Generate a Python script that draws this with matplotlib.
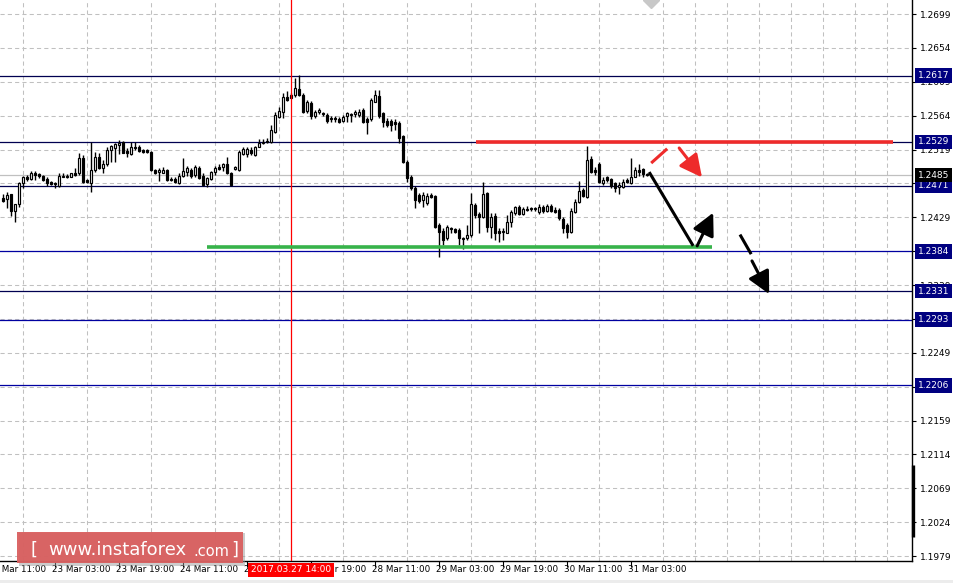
import numpy as np
import matplotlib.pyplot as plt
from matplotlib.patches import Rectangle

plt.rcParams['font.family'] = ['DejaVu Sans']

# EURUSD H1 candles (index 0 = 22 Mar 08:00, weekend skipped)
opens = [
    1.2455, 1.2453, 1.2460, 1.2437, 1.2447, 1.2475, 1.2482, 1.2480, 1.2488, 1.2486,
    1.2484, 1.2480, 1.2476, 1.2475, 1.2471, 1.2482, 1.2484, 1.2482, 1.2488, 1.2488,
    1.2508, 1.2479, 1.2475, 1.2492, 1.2509, 1.2494, 1.2500, 1.2518, 1.2521, 1.2525,
    1.2529, 1.2517, 1.2513, 1.2522, 1.2522, 1.2518, 1.2518, 1.2516, 1.2492, 1.2489,
    1.2488, 1.2492, 1.2480, 1.2480, 1.2475, 1.2484, 1.2489, 1.2492, 1.2485, 1.2494,
    1.2484, 1.2473, 1.2480, 1.2489, 1.2496, 1.2496, 1.2500, 1.2488, 1.2493, 1.2492,
    1.2513, 1.2513, 1.2518, 1.2512, 1.2522, 1.2528, 1.2530, 1.2529, 1.2542, 1.2562,
    1.2569, 1.2589, 1.2587, 1.2591, 1.2599, 1.2591, 1.2570, 1.2581, 1.2564, 1.2569,
    1.2568, 1.2565, 1.2561, 1.2561, 1.2560, 1.2557, 1.2564, 1.2565, 1.2566, 1.2565,
    1.2571, 1.2560, 1.2560, 1.2582, 1.2590, 1.2568, 1.2557, 1.2557, 1.2556, 1.2554,
    1.2537, 1.2502, 1.2482, 1.2468, 1.2459, 1.2452, 1.2448, 1.2459, 1.2457, 1.2419,
    1.2411, 1.2401, 1.2415, 1.2413, 1.2412, 1.2400, 1.2401, 1.2405, 1.2445, 1.2433,
    1.2429, 1.2461, 1.2416, 1.2431, 1.2411, 1.2409, 1.2408, 1.2423, 1.2435, 1.2443,
    1.2433, 1.2440, 1.2441, 1.2440, 1.2436, 1.2443, 1.2437, 1.2444, 1.2439, 1.2439,
    1.2427, 1.2419, 1.2409, 1.2436, 1.2449, 1.2465, 1.2456, 1.2506, 1.2492, 1.2500,
    1.2475, 1.2482, 1.2480, 1.2475, 1.2469, 1.2469, 1.2479, 1.2475, 1.2482, 1.2492,
    1.2493, 1.2486,
]
highs = [
    1.2460, 1.2463, 1.2460, 1.2447, 1.2476, 1.2484, 1.2485, 1.2490, 1.2490, 1.2488,
    1.2485, 1.2482, 1.2477, 1.2476, 1.2488, 1.2488, 1.2486, 1.2488, 1.2494, 1.2514,
    1.2512, 1.2480, 1.2529, 1.2516, 1.2514, 1.2505, 1.2522, 1.2525, 1.2528, 1.2532,
    1.2530, 1.2521, 1.2529, 1.2529, 1.2525, 1.2520, 1.2520, 1.2517, 1.2493, 1.2494,
    1.2496, 1.2493, 1.2482, 1.2482, 1.2488, 1.2508, 1.2497, 1.2494, 1.2498, 1.2497,
    1.2488, 1.2482, 1.2490, 1.2497, 1.2500, 1.2501, 1.2509, 1.2489, 1.2497, 1.2518,
    1.2522, 1.2522, 1.2522, 1.2524, 1.2533, 1.2533, 1.2534, 1.2552, 1.2569, 1.2575,
    1.2594, 1.2597, 1.2594, 1.2614, 1.2618, 1.2594, 1.2585, 1.2583, 1.2571, 1.2574,
    1.2569, 1.2568, 1.2564, 1.2564, 1.2562, 1.2565, 1.2569, 1.2568, 1.2571, 1.2573,
    1.2574, 1.2562, 1.2587, 1.2598, 1.2598, 1.2569, 1.2561, 1.2560, 1.2560, 1.2557,
    1.2538, 1.2505, 1.2485, 1.2471, 1.2461, 1.2463, 1.2461, 1.2461, 1.2459, 1.2421,
    1.2415, 1.2419, 1.2416, 1.2415, 1.2415, 1.2403, 1.2419, 1.2461, 1.2448, 1.2436,
    1.2476, 1.2463, 1.2435, 1.2435, 1.2415, 1.2415, 1.2432, 1.2439, 1.2444, 1.2445,
    1.2443, 1.2444, 1.2443, 1.2443, 1.2447, 1.2445, 1.2447, 1.2447, 1.2443, 1.2441,
    1.2429, 1.2421, 1.2441, 1.2453, 1.2477, 1.2468, 1.2524, 1.2510, 1.2496, 1.2502,
    1.2482, 1.2484, 1.2481, 1.2476, 1.2476, 1.2480, 1.2481, 1.2508, 1.2496, 1.2500,
    1.2494, 1.2488,
]
lows = [
    1.2449, 1.2441, 1.2431, 1.2423, 1.2443, 1.2468, 1.2477, 1.2479, 1.2479, 1.2481,
    1.2477, 1.2471, 1.2472, 1.2468, 1.2469, 1.2482, 1.2481, 1.2482, 1.2484, 1.2485,
    1.2475, 1.2475, 1.2463, 1.2489, 1.2493, 1.2488, 1.2497, 1.2502, 1.2502, 1.2513,
    1.2514, 1.2509, 1.2512, 1.2518, 1.2516, 1.2514, 1.2514, 1.2490, 1.2486, 1.2477,
    1.2488, 1.2477, 1.2477, 1.2475, 1.2473, 1.2482, 1.2484, 1.2481, 1.2482, 1.2480,
    1.2471, 1.2469, 1.2479, 1.2485, 1.2492, 1.2490, 1.2486, 1.2471, 1.2492, 1.2490,
    1.2512, 1.2509, 1.2512, 1.2510, 1.2522, 1.2526, 1.2528, 1.2528, 1.2541, 1.2561,
    1.2561, 1.2583, 1.2587, 1.2589, 1.2590, 1.2568, 1.2568, 1.2560, 1.2561, 1.2566,
    1.2564, 1.2554, 1.2556, 1.2556, 1.2554, 1.2556, 1.2556, 1.2556, 1.2562, 1.2562,
    1.2554, 1.2540, 1.2557, 1.2582, 1.2561, 1.2549, 1.2549, 1.2544, 1.2545, 1.2528,
    1.2501, 1.2476, 1.2465, 1.2441, 1.2448, 1.2443, 1.2445, 1.2455, 1.2415, 1.2376,
    1.2392, 1.2399, 1.2408, 1.2408, 1.2392, 1.2387, 1.2399, 1.2403, 1.2428, 1.2408,
    1.2428, 1.2409, 1.2401, 1.2399, 1.2396, 1.2399, 1.2408, 1.2416, 1.2432, 1.2432,
    1.2432, 1.2437, 1.2437, 1.2437, 1.2433, 1.2435, 1.2436, 1.2436, 1.2435, 1.2425,
    1.2408, 1.2401, 1.2408, 1.2435, 1.2448, 1.2456, 1.2455, 1.2488, 1.2485, 1.2475,
    1.2472, 1.2476, 1.2468, 1.2463, 1.2460, 1.2468, 1.2475, 1.2473, 1.2482, 1.2484,
    1.2482, 1.2484,
]
closes = [
    1.2451, 1.2459, 1.2437, 1.2447, 1.2475, 1.2482, 1.2480, 1.2488, 1.2485, 1.2484,
    1.2479, 1.2475, 1.2473, 1.2473, 1.2484, 1.2484, 1.2482, 1.2488, 1.2485, 1.2508,
    1.2476, 1.2476, 1.2492, 1.2509, 1.2494, 1.2500, 1.2518, 1.2524, 1.2526, 1.2528,
    1.2514, 1.2514, 1.2522, 1.2521, 1.2517, 1.2516, 1.2516, 1.2492, 1.2488, 1.2492,
    1.2492, 1.2479, 1.2479, 1.2476, 1.2484, 1.2490, 1.2494, 1.2484, 1.2496, 1.2481,
    1.2472, 1.2481, 1.2489, 1.2494, 1.2493, 1.2500, 1.2488, 1.2472, 1.2496, 1.2516,
    1.2520, 1.2520, 1.2514, 1.2522, 1.2528, 1.2529, 1.2529, 1.2545, 1.2565, 1.2570,
    1.2589, 1.2585, 1.2591, 1.2601, 1.2591, 1.2569, 1.2582, 1.2564, 1.2569, 1.2571,
    1.2566, 1.2557, 1.2560, 1.2560, 1.2556, 1.2562, 1.2568, 1.2566, 1.2569, 1.2569,
    1.2556, 1.2556, 1.2585, 1.2591, 1.2564, 1.2556, 1.2552, 1.2552, 1.2553, 1.2534,
    1.2502, 1.2481, 1.2468, 1.2452, 1.2451, 1.2459, 1.2457, 1.2456, 1.2416, 1.2409,
    1.2399, 1.2416, 1.2413, 1.2409, 1.2401, 1.2401, 1.2405, 1.2447, 1.2432, 1.2429,
    1.2460, 1.2416, 1.2429, 1.2408, 1.2408, 1.2411, 1.2423, 1.2436, 1.2443, 1.2433,
    1.2440, 1.2439, 1.2440, 1.2441, 1.2443, 1.2437, 1.2444, 1.2437, 1.2436, 1.2428,
    1.2415, 1.2409, 1.2437, 1.2449, 1.2464, 1.2457, 1.2505, 1.2489, 1.2489, 1.2476,
    1.2479, 1.2479, 1.2471, 1.2468, 1.2472, 1.2476, 1.2476, 1.2482, 1.2492, 1.2489,
    1.2486, 1.2485,
]

time_labels = ['22 Mar 11:00', '23 Mar 03:00', '23 Mar 19:00', '24 Mar 11:00',
               '27 Mar 03:00', '27 Mar 19:00', '28 Mar 11:00', '29 Mar 03:00',
               '29 Mar 19:00', '30 Mar 11:00', '31 Mar 03:00']
time_label_bars = [-3, 13, 29, 45, 61, 77, 93, 109, 125, 141, 157]
price_ticks = [1.1979, 1.2024, 1.2069, 1.2114, 1.2159, 1.2204, 1.2249, 1.2294, 1.2339,
               1.2384, 1.2429, 1.2474, 1.2519, 1.2564, 1.2609, 1.2654, 1.2699]

levels_dark = [1.2617, 1.2529, 1.2471, 1.2331]
levels_blue = [1.2384, 1.2293, 1.2206]
last_price = 1.2485
marker_bar = 72
marker_text = '2017.03.27 14:00'

# hand-drawn analysis lines
resistance = (118.3, 222.6, 1.2529)
support = (51.0, 177.3, 1.2390)
red_stroke = [(162.1, 1.2501), (166.1, 1.2520)]
red_arrow = [(169.1, 1.2521), (174.8, 1.2482)]
black_stroke = [(161.6, 1.2489), (172.6, 1.2391)]
black_arrow = [(173.6, 1.2391), (177.6, 1.2435)]
dash_stroke = [(184.3, 1.2406), (187.1, 1.2380)]
dash_arrow = [(187.3, 1.2371), (191.6, 1.2327)]

W, H = 954, 583
fig = plt.figure(figsize=(W / 100, H / 100), dpi=100)
fig.patch.set_facecolor('white')
ax = fig.add_axes([0, 1 - 561 / H, 912 / W, 561 / H])
ax.set_xlim(-0.675, 227.3)
ax.set_ylim(1.19724, 1.27176)

grid_kw = dict(color='#c0c0c0', lw=0.75, dashes=(4, 3))
ax.set_xticks(time_label_bars[1:])
ax.set_xticks(np.arange(5, 228, 8), minor=True)
ax.tick_params(axis='x', which='major', length=4, width=0.8, labelbottom=False)
ax.tick_params(axis='x', which='minor', length=0)
ax.grid(True, axis='x', which='minor', **grid_kw)
ax.yaxis.tick_right()
ax.set_yticks(price_ticks)
ax.set_yticklabels([f'{p:.4f}' for p in price_ticks])
ax.tick_params(axis='y', length=3, width=0.8, pad=3, labelsize=6.5)
ax.grid(True, axis='y', which='major', **grid_kw)
ax.set_axisbelow(True)
for s in ['left', 'top']:
    ax.spines[s].set_visible(False)
for s in ['right', 'bottom']:
    ax.spines[s].set_linewidth(1)

# level lines
for lv in levels_dark:
    ax.axhline(lv, color='#000050', lw=0.9, zorder=1.8)
for lv in levels_blue:
    ax.axhline(lv, color='#0000a0', lw=0.9, zorder=1.8)
ax.axhline(last_price, color='#c0c0c0', lw=0.9, zorder=1.7)

# candles
o = np.array(opens)
c = np.array(closes)
x = np.arange(len(c))
ax.vlines(x, lows, highs, color='black', lw=1.0, zorder=3)
bottom = np.minimum(o, c)
height = np.maximum(np.abs(c - o), 0.00001)
face = np.where(c >= o, 'white', 'black')
ax.bar(x, height, bottom=bottom, width=0.6, color=face, edgecolor='black',
       linewidth=0.85, zorder=4)

# red time marker
ax.axvline(marker_bar, color='red', lw=0.9, zorder=5)

# analysis drawing
ax.plot([resistance[0], resistance[1]], [resistance[2]] * 2, color='#ee2b2b',
        lw=2.6, solid_capstyle='butt', zorder=6)
ax.plot([support[0], support[1]], [support[2]] * 2, color='#37b34a',
        lw=2.6, solid_capstyle='butt', zorder=6)

def stroke(pts, col):
    ax.plot([pts[0][0], pts[1][0]], [pts[0][1], pts[1][1]], color=col, lw=2.2,
            solid_capstyle='butt', zorder=7)

def arrow(pts, col):
    ax.annotate('', xy=pts[1], xytext=pts[0], zorder=7,
                arrowprops=dict(arrowstyle='-|>,head_length=0.75,head_width=0.38',
                                color=col, lw=2.2, mutation_scale=18,
                                shrinkA=0, shrinkB=0))

stroke(red_stroke, '#ee2b2b')
arrow(red_arrow, '#ee2b2b')
stroke(black_stroke, 'black')
arrow(black_arrow, 'black')
stroke(dash_stroke, 'black')
arrow(dash_arrow, 'black')

# shift marker at top
ax.plot([162.1], [1.27176], marker='D', ms=8, color='#c8c8c8', clip_on=True, zorder=8)

# right-side price boxes
yt = ax.get_yaxis_transform()
for lv in levels_dark + levels_blue:
    ax.text(1.0066, lv, f'{lv:.4f}', transform=yt, fontsize=6.5, color='white',
            va='center', ha='left', clip_on=False, zorder=10,
            bbox=dict(boxstyle='square,pad=0.32', fc='#000080', ec='none'))
ax.text(1.0066, last_price, f'{last_price:.4f}', transform=yt, fontsize=6.5,
        color='white', va='center', ha='left', clip_on=False, zorder=11,
        bbox=dict(boxstyle='square,pad=0.32', fc='black', ec='none'))
ax.plot([1.0012, 1.0012], [1.2100, 1.2004], transform=yt, color='black', lw=2.4,
        solid_capstyle='butt', clip_on=False, zorder=10)

# logo
fig.patches.append(Rectangle((19 / W, 1 - 566 / H), 226 / W, 33 / H,
                             transform=fig.transFigure, fc='#9a9a9a', ec='none',
                             alpha=0.5, zorder=0))
fig.patches.append(Rectangle((17 / W, 1 - 563 / H), 226 / W, 31 / H,
                             transform=fig.transFigure, fc='#d95f5f', ec='none',
                             alpha=0.95, zorder=0.5))
fig.text(31 / W, 1 - 550 / H, '[', fontsize=13, color='white', ha='left',
         va='center', zorder=20)
fig.text(48 / W, 1 - 550 / H, 'www.instaforex', fontsize=13, color='white',
         ha='left', va='center', zorder=20)
fig.text(193 / W, 1 - 551 / H, '.com', fontsize=10.5, color='white', ha='left',
         va='center', zorder=20)
fig.text(231 / W, 1 - 550 / H, ']', fontsize=13, color='white', ha='left',
         va='center', zorder=20)

# time labels
xt = ax.get_xaxis_transform()
for pos, lab in zip(time_label_bars, time_labels):
    ax.text(pos - 0.6, -0.016, lab, transform=xt, fontsize=6.3, ha='left',
            va='center', clip_on=False, zorder=9)
ax.text(marker_bar, -0.016, marker_text, transform=xt, fontsize=6.5, ha='center',
        va='center', color='white', clip_on=False, zorder=12,
        bbox=dict(boxstyle='square,pad=0.3', fc='red', ec='none'))

fig.patches.append(Rectangle((0, 0), 1, 3 / H, transform=fig.transFigure,
                             fc='#ececec', ec='none'))

fig.savefig('out.png', dpi=100)
